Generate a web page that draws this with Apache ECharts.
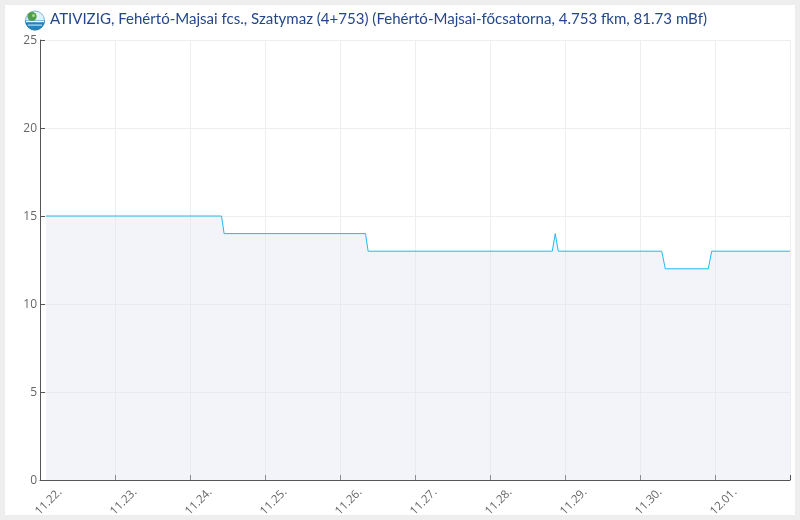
<!DOCTYPE html>
<html><head><meta charset="utf-8">
<style>html,body{margin:0;padding:0;background:#eeeeee}#c{width:800px;height:520px}</style>
<script src="https://cdn.jsdelivr.net/npm/echarts@6/dist/echarts.min.js"></script>
</head><body><div id="c"></div>
<script>
const titleText = 'ATIVIZIG, Fehértó-Majsai fcs., Szatymaz (4+753) (Fehértó-Majsai-főcsatorna, 4.753 fkm, 81.73 mBf)';
const dayLabels = ['11.22.','11.23.','11.24.','11.25.','11.26.','11.27.','11.28.','11.29.','11.30.','12.01.',''];
const dayOffsets = [0.08,2.42,2.455,4.34,4.375,6.83,6.87,6.91,8.29,8.337,8.91,8.956,10];
const levels = [15,15,14,14,13,13,14,13,13,12,12,13,13];
const seriesData = dayOffsets.map((d,i)=>[d,levels[i]]);
const chart = echarts.init(document.getElementById('c'),null,{renderer:'canvas'});
chart.setOption({
  animation:false,
  backgroundColor:'#eeeeee',
  grid:{left:40,right:10,top:40,bottom:40,containLabel:false,outerBoundsMode:'none'},
  title:{text:titleText,left:50,top:12,padding:0,textStyle:{fontFamily:'Lato',fontSize:15.05,fontWeight:'normal',color:'#24468c'}},
  graphic:[
    {type:'rect',z:-1,shape:{x:5,y:5,width:790,height:510},style:{fill:'#ffffff'}},
    {type:'circle',shape:{cx:35,cy:20.5,r:9.5},style:{fill:'#e4f1f7',stroke:'#7db6d3',lineWidth:1}},
    {type:'sector',shape:{cx:35,cy:20.5,r:10,r0:0,startAngle:0,endAngle:Math.PI},style:{fill:'#2583bd'}},
    {type:'rect',shape:{x:26,y:21,width:18,height:1.2},style:{fill:'#ffffff'}},
    {type:'rect',shape:{x:28,y:24.5,width:14,height:1.2},style:{fill:'#bfe0ef'}},
    {type:'circle',shape:{cx:32,cy:16.5,r:4.6},style:{fill:'#4e9f45'}},
    {type:'circle',shape:{cx:33.5,cy:15.5,r:1.5},style:{fill:'#a8d596'}}
  ],
  xAxis:{type:'value',min:0,max:10,interval:1,
    axisLine:{show:true,onZero:false,lineStyle:{color:'#555555',width:1}},
    axisTick:{show:true,inside:true,length:5,lineStyle:{color:'#555555'}},
    axisLabel:{rotate:45,margin:36,align:'left',verticalAlign:'bottom',lineHeight:8,fontFamily:'Open Sans',fontSize:11.5,color:'#666666',formatter:v=>dayLabels[Math.round(v)],showMaxLabel:true,showMinLabel:true},
    splitLine:{show:true,lineStyle:{color:'#eeeeee',width:1}}},
  yAxis:{type:'value',min:0,max:25,interval:5,
    axisLine:{show:true,lineStyle:{color:'#555555',width:1}},
    axisTick:{show:true,inside:true,length:5,lineStyle:{color:'#555555'}},
    axisLabel:{margin:3,fontFamily:'Open Sans',fontSize:12,color:'#666666',formatter:'{a|{value}}',rich:{a:{fontFamily:'Open Sans',fontSize:12,color:'#666666',padding:[2,0,0,0]}}},
    splitLine:{show:true,lineStyle:{color:'#eeeeee',width:1}}},
  series:[{type:'line',data:seriesData,showSymbol:false,smooth:false,clip:true,
    lineStyle:{color:'#1dbcf0',width:1},
    areaStyle:{color:'#dfe3ef',opacity:0.4}}]
});
</script></body></html>
